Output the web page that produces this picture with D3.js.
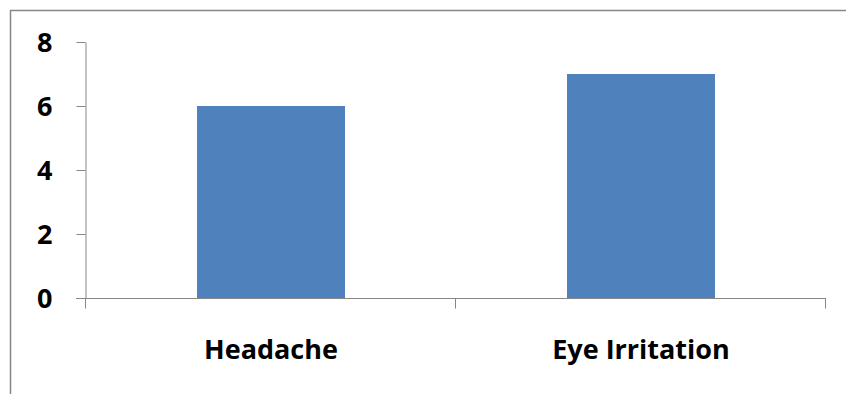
<!DOCTYPE html>
<html>
<head>
<meta charset="utf-8">
<script src="https://cdn.jsdelivr.net/npm/d3@7"></script>
<style>
  html, body { margin: 0; padding: 0; background: #fff; }
  svg { display: block; }
  text { font-family: "Open Sans", "Liberation Sans", sans-serif; font-weight: bold; fill: #000; }
</style>
</head>
<body>
<svg id="chart" width="846" height="394"></svg>
<script>
// Symptom counts
const categories = ["Headache", "Eye Irritation"];
const counts = [6, 7];
const yTicks = [0, 2, 4, 6, 8];

const svg = d3.select("#chart");
const W = 846, H = 394;
const plot = { left: 86, right: 826, top: 42, bottom: 298 };

// chart frame
svg.append("path")
  .attr("d", `M10.5,${H + 2} V10.5 H${W + 2}`)
  .attr("fill", "none")
  .attr("stroke", "#868686")
  .attr("stroke-width", 1.5);

const x = d3.scaleBand()
  .domain(categories)
  .range([plot.left, plot.right])
  .paddingInner(0)
  .paddingOuter(0);

const y = d3.scaleLinear()
  .domain([0, 8])
  .range([plot.bottom, plot.top]);

const axisColor = "#868686";

// bars
const barW = x.bandwidth() * 0.4;
svg.append("g").selectAll("rect")
  .data(categories.map((c, i) => ({ c, v: counts[i] })))
  .join("rect")
  .attr("x", d => x(d.c) + (x.bandwidth() - barW) / 2)
  .attr("y", d => y(d.v))
  .attr("width", barW)
  .attr("height", d => y(0) - y(d.v))
  .attr("fill", "#4F81BD");

// y axis
const yAxis = svg.append("g")
  .attr("transform", `translate(${plot.left - 0.5},0)`)
  .call(d3.axisLeft(y).tickValues(yTicks).tickSize(9).tickPadding(24).tickSizeOuter(0));
yAxis.select(".domain").attr("stroke", axisColor);
yAxis.selectAll(".tick line").attr("stroke", axisColor);
yAxis.selectAll(".tick text")
  .style("font-size", "27px")
  .attr("dy", "0.36em");

// x axis: category boundary ticks
const xg = svg.append("g").attr("transform", `translate(0,${plot.bottom + 0.5})`);
xg.append("line")
  .attr("x1", plot.left - 10).attr("x2", plot.right)
  .attr("stroke", axisColor);
const bounds = [plot.left, ...categories.map(c => x(c) + x.bandwidth())];
xg.selectAll("line.tk")
  .data(bounds)
  .join("line")
  .attr("class", "tk")
  .attr("x1", d => Math.round(d) - 0.5).attr("x2", d => Math.round(d) - 0.5)
  .attr("y1", 0).attr("y2", 10)
  .attr("stroke", axisColor);
xg.selectAll("text")
  .data(categories)
  .join("text")
  .attr("x", d => x(d) + x.bandwidth() / 2)
  .attr("y", 60)
  .attr("text-anchor", "middle")
  .style("font-size", "27px")
  .text(d => d);
</script>
</body>
</html>
